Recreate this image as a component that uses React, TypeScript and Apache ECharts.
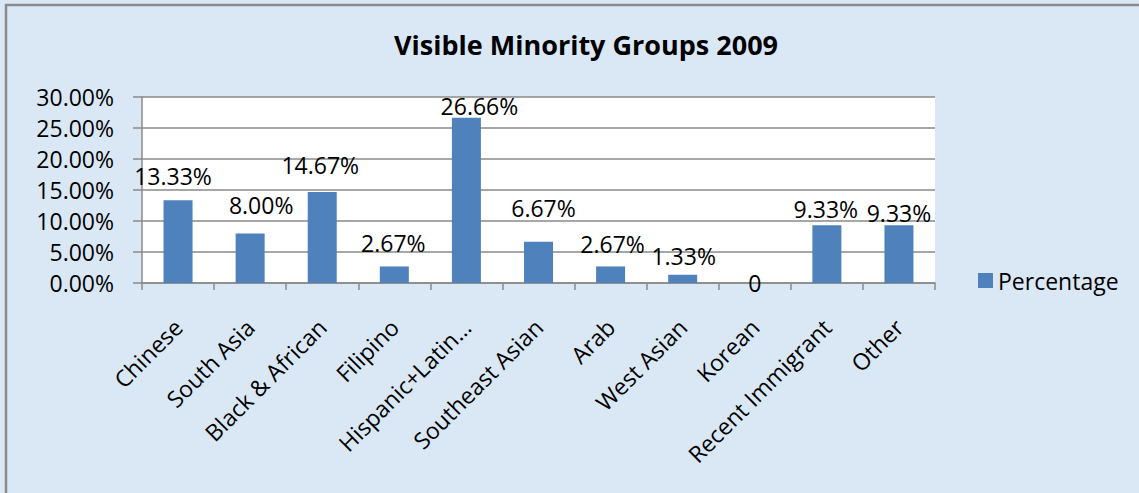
import React, { useEffect, useRef } from "react";
import * as echarts from "echarts";

const categories = [
  "Chinese",
  "South Asia",
  "Black & African",
  "Filipino",
  "Hispanic+Latin…",
  "Southeast Asian",
  "Arab",
  "West Asian",
  "Korean",
  "Recent Immigrant",
  "Other",
];
const percentages = [13.33, 8.0, 14.67, 2.67, 26.66, 6.67, 2.67, 1.33, 0, 9.33, 9.33];
const yTicks = { min: 0, max: 30, interval: 5 };
const seriesName = "Percentage";
const title = "Visible Minority Groups 2009";

// Style only: hand-placed data-label nudges (px) as in the original chart.
const labelNudges: [number, number][] = [
  [-5, -12],
  [11, -16],
  [-2, -15],
  [-1, -11],
  [13, 1],
  [5, -21],
  [2, -10],
  [1, -6],
  [0, 12],
  [-1, -4],
  [0, 0],
];

const FONT = "'Open Sans', Lato, sans-serif";

export default function App() {
  const ref = useRef<HTMLDivElement>(null);
  useEffect(() => {
    if (!ref.current) return;
    const chart = echarts.init(ref.current, null, { renderer: "svg" });
    chart.setOption({
      animation: false,
      backgroundColor: "#dae8f6",
      textStyle: { fontFamily: FONT, color: "#000" },
      title: {
        text: title,
        left: 581,
        textAlign: "center",
        top: 26,
        textStyle: { fontFamily: FONT, fontSize: 27, fontWeight: "bold", color: "#000" },
      },
      graphic: [
        {
          type: "rect",
          shape: { x: 6, y: 5, width: 1200, height: 600 },
          style: { fill: "none", stroke: "#8a8a8a", lineWidth: 2.5 },
          silent: true,
          z: 100,
        },
      ],
      legend: {
        orient: "vertical",
        left: 978,
        top: 269,
        padding: 0,
        itemWidth: 15,
        itemHeight: 15,
        itemGap: 6,
        icon: "rect",
        textStyle: { fontFamily: FONT, fontSize: 23, color: "#000" },
        data: [seriesName],
      },
      grid: {
        left: 142,
        right: 204,
        top: 97,
        bottom: 210,
        show: true,
        backgroundColor: "#ffffff",
        borderWidth: 0,
      },
      xAxis: {
        type: "category",
        data: categories,
        boundaryGap: true,
        axisLine: { show: true, lineStyle: { color: "#8a8a8a", width: 1.5 } },
        axisTick: { show: true, length: 7, alignWithLabel: false, lineStyle: { color: "#8a8a8a", width: 1.5 } },
        axisLabel: {
          interval: 0,
          rotate: 45,
          margin: 40,
          fontFamily: FONT,
          fontSize: 23,
          color: "#000",
        },
      },
      yAxis: {
        type: "value",
        min: yTicks.min,
        max: yTicks.max,
        interval: yTicks.interval,
        axisLine: { show: true, lineStyle: { color: "#8a8a8a", width: 1.5 } },
        axisTick: { show: true, length: 9, lineStyle: { color: "#8a8a8a", width: 1.5 } },
        splitLine: { show: true, lineStyle: { color: "#8a8a8a", width: 1.5 } },
        axisLabel: {
          margin: 28,
          fontFamily: FONT,
          fontSize: 23,
          color: "#000",
          formatter: (v: number) => v.toFixed(2) + "%",
        },
      },
      series: [
        {
          name: seriesName,
          type: "bar",
          barWidth: 29,
          itemStyle: { color: "#4f81bd" },
          data: percentages.map((v, i) => ({
            value: v,
            label: { offset: labelNudges[i] },
          })),
          label: {
            show: true,
            position: "top",
            distance: 1,
            fontFamily: FONT,
            fontSize: 23,
            color: "#000",
            formatter: (p: any) => (p.value === 0 ? "0" : p.value.toFixed(2) + "%"),
          },
        },
      ],
    });
    return () => chart.dispose();
  }, []);
  return (
    <div
      ref={ref}
      style={{ position: "fixed", left: 0, top: 0, width: 1139, height: 493 }}
    />
  );
}
